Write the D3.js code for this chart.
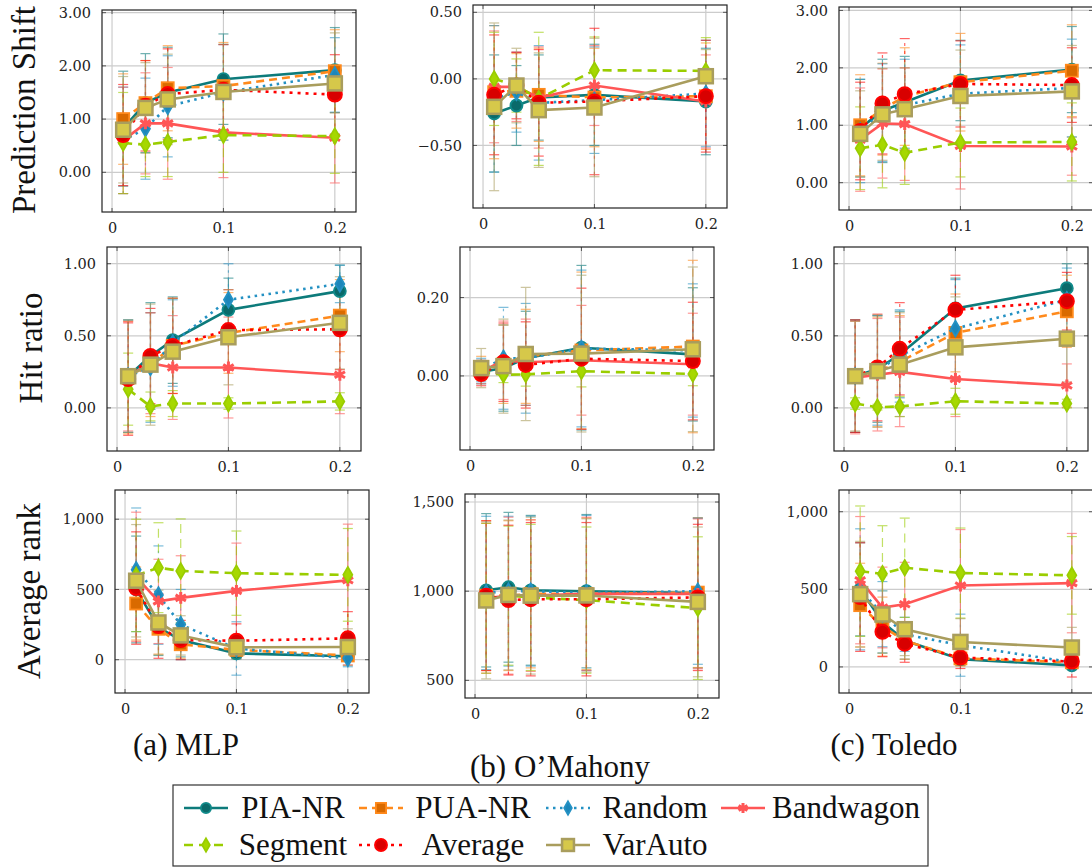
<!DOCTYPE html>
<html>
<head>
<meta charset="utf-8">
<script src="https://cdn.jsdelivr.net/npm/d3@7"></script>
<style>
  body { margin: 0; background: #fff; }
  svg { display: block; }
</style>
</head>
<body>
<div id="chart"></div>
<script>
// x positions (attack size) and series
const xValues = [0.01, 0.03, 0.05, 0.1, 0.2];
const xTicks = [0, 0.1, 0.2];
const seriesNames = ['PIA-NR', 'PUA-NR', 'Random', 'Bandwagon', 'Segment', 'Average', 'VarAuto'];
const rowLabels = ['Prediction Shift', 'Hit ratio', 'Average rank'];
const captions = ['(a) MLP', '(b) O\u2019Mahony', '(c) Toledo'];

// y tick values per panel type
const shiftTicks = [0, 1, 2, 3];
const shiftTicksOM = [-0.5, 0, 0.5];
const hitTicks = [0, 0.5, 1];
const hitTicksOM = [0, 0.2];
const rankTicks = [0, 500, 1000];
const rankTicksOM = [500, 1000, 1500];

// Prediction shift (rows = series, cols = xValues)
const shiftMLP = [
  [0.82, 1.30, 1.50, 1.75, 1.92],
  [1.00, 1.30, 1.58, 1.62, 1.90],
  [0.60, 0.82, 1.24, 1.50, 1.83],
  [0.60, 0.92, 0.92, 0.75, 0.65],
  [0.55, 0.52, 0.57, 0.70, 0.68],
  [0.70, 1.25, 1.47, 1.55, 1.46],
  [0.80, 1.21, 1.37, 1.51, 1.67]
];
const shiftMLPErr = [
  [1.08, 0.93, 0.85, 0.85, 0.80],
  [0.85, 0.80, 0.80, 0.82, 0.78],
  [1.00, 0.95, 0.95, 0.90, 0.70],
  [1.00, 0.95, 1.05, 0.85, 0.85],
  [0.95, 0.60, 0.65, 0.70, 0.70],
  [0.95, 0.85, 0.85, 0.85, 0.75],
  [1.00, 0.85, 0.85, 0.90, 0.95]
];
const shiftOM = [
  [-0.26, -0.20, -0.14, -0.12, -0.17],
  [-0.10, -0.09, -0.12, -0.14, -0.13],
  [-0.15, -0.10, -0.18, -0.16, -0.11],
  [-0.06, -0.06, -0.14, -0.05, -0.17],
  [0.00, -0.05, -0.15, 0.065, 0.06],
  [-0.12, -0.05, -0.18, -0.17, -0.13],
  [-0.21, -0.05, -0.235, -0.215, 0.02]
];
const shiftOMErr = [
  [0.44, 0.30, 0.32, 0.38, 0.40],
  [0.50, 0.28, 0.35, 0.37, 0.40],
  [0.55, 0.30, 0.43, 0.40, 0.40],
  [0.42, 0.26, 0.38, 0.30, 0.35],
  [0.35, 0.20, 0.50, 0.25, 0.25],
  [0.45, 0.25, 0.40, 0.55, 0.42],
  [0.63, 0.28, 0.43, 0.52, 0.20]
];
const shiftToledo = [
  [0.95, 1.25, 1.40, 1.78, 1.97],
  [1.00, 1.28, 1.50, 1.75, 1.95],
  [0.90, 1.22, 1.35, 1.55, 1.65],
  [0.75, 1.03, 1.02, 0.64, 0.63],
  [0.60, 0.66, 0.52, 0.70, 0.71],
  [0.90, 1.38, 1.54, 1.72, 1.70],
  [0.85, 1.19, 1.28, 1.51, 1.59]
];
const shiftToledoErr = [
  [0.85, 0.90, 0.80, 0.70, 0.75],
  [0.88, 0.80, 0.85, 0.85, 0.80],
  [0.90, 0.85, 0.80, 0.85, 0.85],
  [0.90, 0.95, 0.98, 0.75, 0.50],
  [0.72, 0.75, 0.55, 0.60, 0.68],
  [0.85, 0.88, 0.97, 0.75, 0.65],
  [0.75, 0.80, 0.72, 0.80, 0.80]
];

// Hit ratio
const hitMLP = [
  [0.22, 0.36, 0.47, 0.68, 0.81],
  [0.21, 0.30, 0.43, 0.52, 0.64],
  [0.22, 0.28, 0.45, 0.75, 0.86],
  [0.22, 0.31, 0.28, 0.28, 0.23],
  [0.13, 0.01, 0.03, 0.03, 0.045],
  [0.20, 0.36, 0.43, 0.54, 0.545],
  [0.22, 0.30, 0.39, 0.49, 0.59]
];
const hitMLPErr = [
  [0.39, 0.37, 0.30, 0.22, 0.18],
  [0.39, 0.36, 0.33, 0.28, 0.25],
  [0.39, 0.38, 0.30, 0.25, 0.13],
  [0.38, 0.35, 0.36, 0.35, 0.27],
  [0.25, 0.10, 0.09, 0.04, 0.06],
  [0.39, 0.33, 0.33, 0.28, 0.28],
  [0.39, 0.42, 0.37, 0.33, 0.32]
];
const hitOM = [
  [0.01, 0.02, 0.045, 0.072, 0.055],
  [0.02, 0.03, 0.05, 0.065, 0.075],
  [0.015, 0.045, 0.045, 0.07, 0.065],
  [0.01, 0.04, 0.035, 0.04, 0.03],
  [0.01, 0.003, 0.004, 0.012, 0.005],
  [0.005, 0.035, 0.028, 0.044, 0.038],
  [0.02, 0.025, 0.056, 0.057, 0.068]
];
const hitOMErr = [
  [0.03, 0.11, 0.12, 0.21, 0.17],
  [0.03, 0.10, 0.12, 0.20, 0.22],
  [0.03, 0.13, 0.14, 0.20, 0.17],
  [0.03, 0.10, 0.11, 0.14, 0.13],
  [0.02, 0.02, 0.03, 0.04, 0.03],
  [0.03, 0.10, 0.11, 0.18, 0.15],
  [0.05, 0.12, 0.17, 0.20, 0.21]
];
const hitToledo = [
  [0.22, 0.27, 0.37, 0.69, 0.83],
  [0.22, 0.25, 0.32, 0.52, 0.67],
  [0.22, 0.26, 0.36, 0.55, 0.75],
  [0.21, 0.23, 0.25, 0.20, 0.155],
  [0.03, 0.005, 0.01, 0.046, 0.03],
  [0.22, 0.28, 0.41, 0.68, 0.74],
  [0.22, 0.255, 0.30, 0.42, 0.48]
];
const hitToledoErr = [
  [0.39, 0.37, 0.30, 0.21, 0.17],
  [0.39, 0.38, 0.32, 0.27, 0.25],
  [0.39, 0.38, 0.32, 0.34, 0.22],
  [0.39, 0.39, 0.38, 0.26, 0.15],
  [0.04, 0.02, 0.07, 0.09, 0.03],
  [0.39, 0.37, 0.32, 0.24, 0.20],
  [0.38, 0.39, 0.36, 0.35, 0.30]
];

// Average rank
const rankMLP = [
  [500, 230, 140, 45, 25],
  [400, 220, 110, 70, 30],
  [640, 460, 250, 80, 10],
  [590, 415, 440, 490, 565],
  [600, 655, 632, 616, 604],
  [510, 240, 140, 135, 152],
  [562, 265, 173, 88, 90]
];
const rankMLPErr = [
  [380, 200, 120, 40, 30],
  [260, 180, 100, 60, 40],
  [440, 350, 250, 190, 60],
  [460, 300, 300, 340, 400],
  [400, 320, 370, 300, 330],
  [400, 230, 140, 120, 190],
  [400, 230, 140, 80, 130]
];
const rankOM = [
  [1005, 1022, 1005, 1000, 990],
  [975, 975, 985, 985, 992],
  [990, 1000, 1000, 990, 1000],
  [960, 975, 975, 985, 985],
  [960, 975, 965, 950, 905],
  [975, 950, 955, 955, 965],
  [948, 979, 975, 976, 940]
];
const rankOMErr = [
  [430, 420, 420, 430, 420],
  [420, 420, 415, 425, 420],
  [430, 420, 420, 435, 410],
  [420, 440, 425, 430, 420],
  [420, 390, 410, 410, 400],
  [420, 420, 430, 430, 410],
  [440, 420, 440, 430, 420]
];
const rankToledo = [
  [500, 290, 170, 50, 10],
  [398, 260, 170, 55, 30],
  [500, 340, 210, 140, 30],
  [559, 383, 404, 525, 540],
  [617, 600, 639, 605, 590],
  [450, 226, 150, 60, 35],
  [469, 338, 243, 161, 125]
];
const rankToledoErr = [
  [300, 200, 120, 40, 20],
  [270, 190, 120, 50, 40],
  [390, 210, 110, 200, 40],
  [410, 260, 270, 360, 320],
  [420, 310, 320, 290, 250],
  [350, 160, 120, 70, 100],
  [340, 250, 170, 150, 130]
];

// series styles
const lineColors = ['#0d7b7b', '#ff8a1c', '#2491c3', '#ff5656', '#9acd00', '#ff0000', '#a99d5d'];
const markFill = ['#0a6a6a', '#d96a00', '#1c86ba', '#ff5656', '#a6d800', '#d80000', '#d6c84a'];
const dashes = [null, '8,5', '2.5,4.5', null, '9,6', '3,5', null];

const W = 1092, H = 867;
const svg = d3.select('#chart').append('svg').attr('width', W).attr('height', H);
svg.append('rect').attr('width', W).attr('height', H).attr('fill', '#fff');
const defs = svg.append('defs');

const serif = 'Liberation Serif, Times New Roman, serif';
const tickFont = 'DejaVu Serif, serif';

// panels: box = [left, top, width, height]
const panels = [
  { means: shiftMLP, errs: shiftMLPErr, ticks: shiftTicks, fmt: '.2f', box: [102, 10, 254, 202], yDom: [-0.746, 3.05] },
  { means: shiftOM, errs: shiftOMErr, ticks: shiftTicksOM, fmt: '.2f', box: [473, 5, 254, 203], yDom: [-0.97, 0.555] },
  { means: shiftToledo, errs: shiftToledoErr, ticks: shiftTicks, fmt: '.2f', box: [839, 7, 254, 203], yDom: [-0.476, 3.06] },
  { means: hitMLP, errs: hitMLPErr, ticks: hitTicks, fmt: '.2f', box: [107, 247, 254, 204], yDom: [-0.299, 1.116] },
  { means: hitOM, errs: hitOMErr, ticks: hitTicksOM, fmt: '.2f', box: [460, 247, 254, 203], yDom: [-0.189, 0.329] },
  { means: hitToledo, errs: hitToledoErr, ticks: hitTicks, fmt: '.2f', box: [834, 247, 254, 204], yDom: [-0.299, 1.116] },
  { means: rankMLP, errs: rankMLPErr, ticks: rankTicks, fmt: ',', box: [115, 490, 254, 203], yDom: [-237, 1208] },
  { means: rankOM, errs: rankOMErr, ticks: rankTicksOM, fmt: ',', box: [465, 494, 254, 204], yDom: [401, 1545] },
  { means: rankToledo, errs: rankToledoErr, ticks: rankTicks, fmt: ',', box: [839, 490, 254, 203], yDom: [-168, 1140] }
];

function drawMarker(sel, k, cx, cy, scale) {
  const s = scale || 1;
  if (k === 0) {
    sel.append('circle').attr('cx', cx).attr('cy', cy).attr('r', 6 * s)
      .attr('fill', markFill[0]).attr('stroke', '#108a8a').attr('stroke-width', 1.8);
  } else if (k === 1) {
    sel.append('rect').attr('x', cx - 6 * s).attr('y', cy - 6 * s).attr('width', 12 * s).attr('height', 12 * s)
      .attr('fill', markFill[1]).attr('stroke', '#ff8a1c').attr('stroke-width', 1.8);
  } else if (k === 2 || k === 4) {
    sel.append('path').attr('transform', `translate(${cx},${cy})`)
      .attr('d', d3.symbol(d3.symbolDiamond, 70 * s * s)())
      .attr('fill', markFill[k]).attr('stroke', lineColors[k]).attr('stroke-width', 1.8);
  } else if (k === 3) {
    sel.append('path').attr('transform', `translate(${cx},${cy})`)
      .attr('d', d3.symbol(d3.symbolAsterisk, 100 * s * s)())
      .attr('fill', 'none').attr('stroke', markFill[3]).attr('stroke-width', 3);
  } else if (k === 5) {
    sel.append('circle').attr('cx', cx).attr('cy', cy).attr('r', 7 * s)
      .attr('fill', markFill[5]).attr('stroke', '#ff0000').attr('stroke-width', 2);
  } else {
    sel.append('rect').attr('x', cx - 7 * s).attr('y', cy - 7 * s).attr('width', 14 * s).attr('height', 14 * s)
      .attr('fill', markFill[6]).attr('stroke', lineColors[6]).attr('stroke-width', 2.5);
  }
}

panels.forEach((p, i) => {
  const [L, T, PW, PH] = p.box;
  const x = d3.scaleLinear().domain([-0.009, 0.219]).range([L, L + PW]);
  const y = d3.scaleLinear().domain(p.yDom).range([T + PH, T]);
  const g = svg.append('g');

  defs.append('clipPath').attr('id', 'clip' + i)
    .append('rect').attr('x', L).attr('y', T).attr('width', PW).attr('height', PH);

  // Grid
  g.selectAll('.gx').data(xTicks).join('line')
    .attr('x1', d => x(d)).attr('x2', d => x(d)).attr('y1', T).attr('y2', T + PH)
    .attr('stroke', '#cccccc').attr('stroke-width', 1.2);
  g.selectAll('.gy').data(p.ticks).join('line')
    .attr('x1', L).attr('x2', L + PW).attr('y1', d => y(d)).attr('y2', d => y(d))
    .attr('stroke', '#cccccc').attr('stroke-width', 1.2);

  // Tick marks, inward on all sides
  const tk = g.append('g').attr('stroke', '#555').attr('stroke-width', 1);
  xTicks.forEach(d => {
    tk.append('line').attr('x1', x(d)).attr('x2', x(d)).attr('y1', T + PH).attr('y2', T + PH - 4);
    tk.append('line').attr('x1', x(d)).attr('x2', x(d)).attr('y1', T).attr('y2', T + 4);
  });
  p.ticks.forEach(d => {
    tk.append('line').attr('x1', L).attr('x2', L + 4).attr('y1', y(d)).attr('y2', y(d));
    tk.append('line').attr('x1', L + PW).attr('x2', L + PW - 4).attr('y1', y(d)).attr('y2', y(d));
  });

  // Series: error bars, line, markers
  const plot = g.append('g');
  p.means.forEach((row, k) => {
    const eb = plot.append('g').attr('clip-path', `url(#clip${i})`)
      .attr('stroke', lineColors[k]).attr('stroke-width', 1.2).attr('opacity', 0.6);
    row.forEach((m, j) => {
      const e = p.errs[k][j];
      const cx = x(xValues[j]);
      const e1 = eb.append('line').attr('x1', cx).attr('x2', cx).attr('y1', y(m - e)).attr('y2', y(m + e));
      if (dashes[k]) e1.attr('stroke-dasharray', dashes[k]);
      eb.append('line').attr('x1', cx - 5).attr('x2', cx + 5).attr('y1', y(m - e)).attr('y2', y(m - e));
      eb.append('line').attr('x1', cx - 5).attr('x2', cx + 5).attr('y1', y(m + e)).attr('y2', y(m + e));
    });
  });
  p.means.forEach((row, k) => {
    const ln = plot.append('path').datum(row)
      .attr('clip-path', `url(#clip${i})`)
      .attr('fill', 'none').attr('stroke', lineColors[k]).attr('stroke-width', 2.6)
      .attr('d', d3.line().x((d, j) => x(xValues[j])).y(d => y(d)));
    if (dashes[k]) ln.attr('stroke-dasharray', dashes[k]);
    const mk = plot.append('g');
    row.forEach((m, j) => drawMarker(mk, k, x(xValues[j]), y(m)));
  });

  // Box
  g.append('rect').attr('x', L).attr('y', T).attr('width', PW).attr('height', PH)
    .attr('fill', 'none').attr('stroke', '#222').attr('stroke-width', 1.2);

  // Axes labels
  const ya = g.append('g').attr('transform', `translate(${L},0)`)
    .call(d3.axisLeft(y).tickValues(p.ticks).tickFormat(d3.format(p.fmt)).tickSize(0).tickPadding(11));
  ya.select('.domain').remove();
  ya.selectAll('text').attr('font-family', tickFont).attr('font-size', 14.5).attr('fill', '#222');

  const xa = g.append('g').attr('transform', `translate(0,${T + PH})`)
    .call(d3.axisBottom(x).tickValues(xTicks).tickFormat(d => d === 0 ? '0' : d3.format('.1f')(d)).tickSize(0).tickPadding(11));
  xa.select('.domain').remove();
  xa.selectAll('text').attr('font-family', tickFont).attr('font-size', 14.5).attr('fill', '#222');
});

// Row labels
const labelPos = [[35, 110], [42, 348], [40, 591]];
rowLabels.forEach((t, r) => {
  svg.append('text')
    .attr('transform', `translate(${labelPos[r][0]},${labelPos[r][1]}) rotate(-90)`)
    .attr('text-anchor', 'middle')
    .attr('font-family', serif).attr('font-size', 33).attr('fill', '#111')
    .text(t);
});

// Sub-captions
const capPos = [[186, 755], [560, 777], [894, 755]];
captions.forEach((t, c) => {
  svg.append('text').attr('x', capPos[c][0]).attr('y', capPos[c][1])
    .attr('text-anchor', 'middle')
    .attr('font-family', serif).attr('font-size', 31).attr('fill', '#111')
    .text(t);
});

// Legend
const legend = svg.append('g');
legend.append('rect').attr('x', 173).attr('y', 785).attr('width', 755).attr('height', 81)
  .attr('fill', '#fff').attr('stroke', '#333').attr('stroke-width', 1.2);
const colStart = [184, 359, 546, 721];
const colText = [293, 473, 655, 846];
const rowY = [808, 845];
seriesNames.forEach((name, k) => {
  const c = k % 4, r = Math.floor(k / 4);
  const cy = rowY[r];
  const ln = legend.append('line').attr('x1', colStart[c]).attr('x2', colStart[c] + 44)
    .attr('y1', cy).attr('y2', cy)
    .attr('stroke', lineColors[k]).attr('stroke-width', 2.6);
  if (dashes[k]) ln.attr('stroke-dasharray', dashes[k]);
  drawMarker(legend, k, colStart[c] + 22, cy, 0.85);
  legend.append('text').attr('x', colText[c]).attr('y', cy + 10)
    .attr('text-anchor', 'middle')
    .attr('font-family', serif).attr('font-size', 31).attr('fill', '#111')
    .text(name);
});
</script>
</body>
</html>
